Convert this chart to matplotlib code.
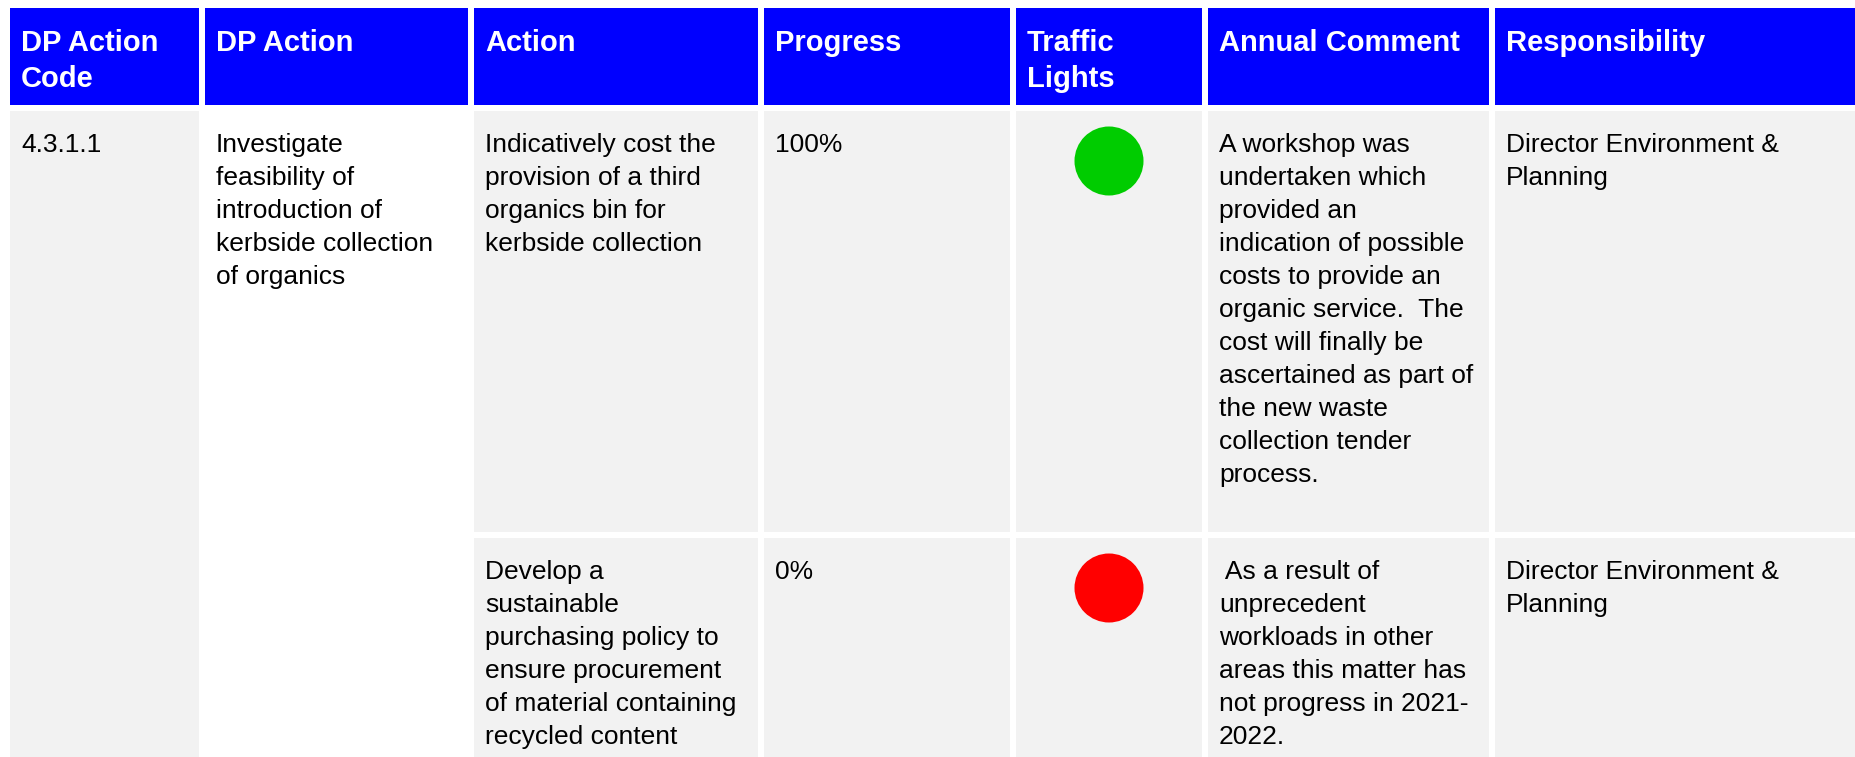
import matplotlib
matplotlib.use("Agg")
import matplotlib.pyplot as plt
from matplotlib.patches import Rectangle, Circle

W, H = 1856, 757

# table content
headers = ["DP Action\nCode", "DP Action", "Action", "Progress",
           "Traffic\nLights", "Annual Comment", "Responsibility"]
dp_code = "4.3.1.1"
dp_action = "Investigate\nfeasibility of\nintroduction of\nkerbside collection\nof organics"
actions = ["Indicatively cost the\nprovision of a third\norganics bin for\nkerbside collection",
           "Develop a\nsustainable\npurchasing policy to\nensure procurement\nof material containing\nrecycled content"]
progress = ["100%", "0%"]
lights = ["#00cc00", "#ff0000"]
comments = ["A workshop was\nundertaken which\nprovided an\nindication of possible\ncosts to provide an\n"
            "organic service.  The\ncost will finally be\nascertained as part of\nthe new waste\n"
            "collection tender\nprocess.",
            " As a result of\nunprecedent\nworkloads in other\nareas this matter has\nnot progress in 2021-\n2022."]
responsibility = ["Director Environment &\nPlanning", "Director Environment &\nPlanning"]

# layout (pixels)
col_x = [(10, 199), (205, 468), (474, 758), (764, 1010), (1016, 1202), (1208, 1489), (1495, 1856)]
head_y = (8, 105)
row_y = [(111, 532), (538, 757)]
pad = 11
blue = "#0000ff"
gray = "#f2f2f2"

plt.rcParams['font.family'] = ['Liberation Sans', 'DejaVu Sans']

fig = plt.figure(figsize=(W / 100, H / 100), dpi=100)
ax = fig.add_axes([0, 0, 1, 1])
ax.set_xlim(0, W)
ax.set_ylim(H, 0)
ax.axis('off')


def cell(x0, x1, y0, y1, color):
    ax.add_patch(Rectangle((x0, y0), x1 - x0, y1 - y0, facecolor=color, edgecolor='none'))


def write(x, y0, txt, size, step, **kw):
    for i, line in enumerate(txt.split("\n")):
        ax.text(x, y0 + i * step, line, fontsize=size, va='baseline', ha='left', **kw)


# header
for (x0, x1), h in zip(col_x, headers):
    cell(x0, x1, head_y[0], head_y[1], blue)
    write(x0 + pad, 51, h, 21, 36, color='white', fontweight='bold')

# merged cells
top, bot = row_y[0][0], row_y[-1][1]
cell(col_x[0][0], col_x[0][1], top, bot, gray)
cell(col_x[1][0], col_x[1][1], top, bot, 'white')
write(col_x[0][0] + pad, top + 41, dp_code, 19, 33, color='black')
write(col_x[1][0] + pad, top + 41, dp_action, 19, 33, color='black')

# per-row cells
for r, (y0, y1) in enumerate(row_y):
    for c in range(2, 7):
        cell(col_x[c][0], col_x[c][1], y0, y1, gray)
    base = y0 + 41
    write(col_x[2][0] + pad, base, actions[r], 19, 33, color='black')
    write(col_x[3][0] + pad, base, progress[r], 19, 33, color='black')
    cx = (col_x[4][0] + col_x[4][1]) / 2
    ax.add_patch(Circle((cx, y0 + 50), 34.5, facecolor=lights[r], edgecolor='none'))
    write(col_x[5][0] + pad, base, comments[r], 19, 33, color='black')
    write(col_x[6][0] + pad, base, responsibility[r], 19, 33, color='black')

fig.savefig("out.png", dpi=100, facecolor='white')
